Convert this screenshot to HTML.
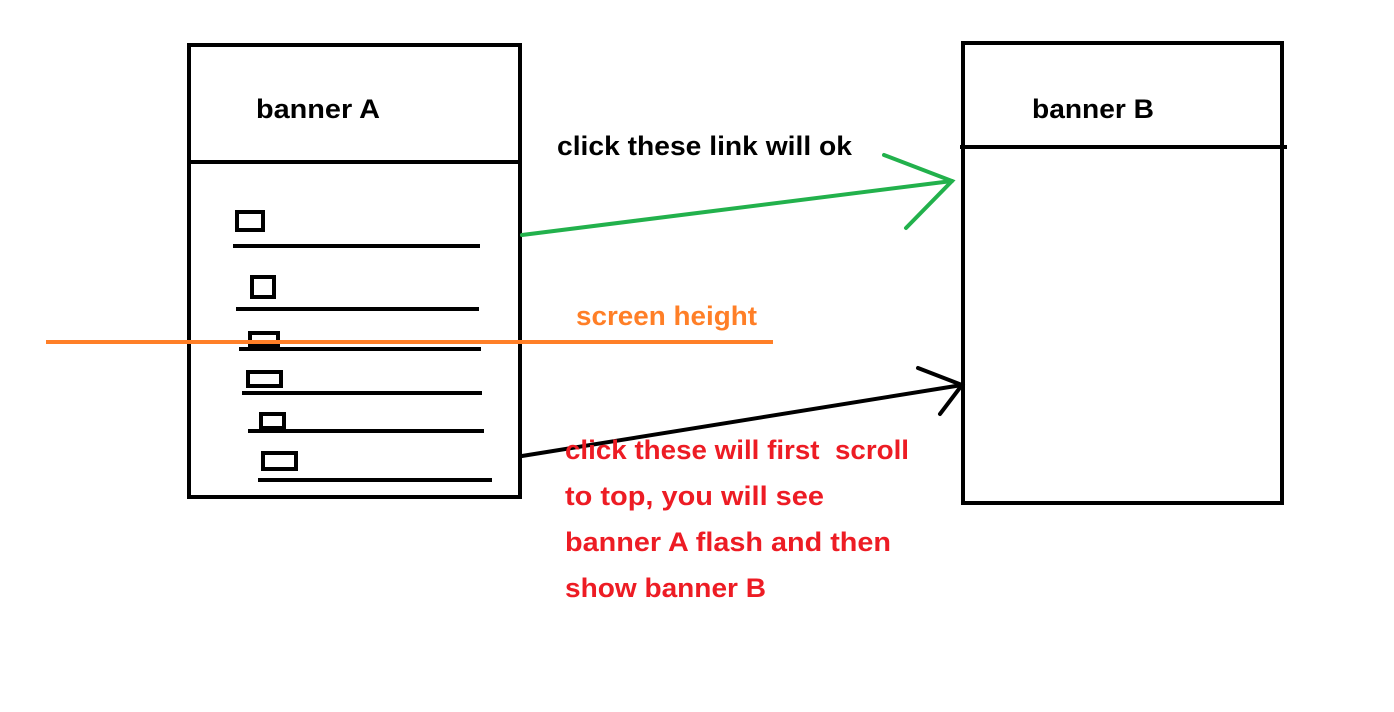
<!DOCTYPE html>
<html><head><meta charset="utf-8"><style>
html,body{margin:0;padding:0;background:#fff;}
svg{display:block;}
text{font-family:"Liberation Sans",sans-serif;font-weight:bold;font-size:27px;}
</style></head><body>
<svg width="1394" height="712" viewBox="0 0 1394 712">
<g fill="none" stroke="#000" stroke-width="4">
<rect x="189" y="45" width="331" height="452"/>
<line x1="189" y1="162" x2="522" y2="162"/>
<rect x="963" y="43" width="319" height="460"/>
<line x1="960" y1="147" x2="1287" y2="147"/>
<g>
<rect x="237" y="212" width="26" height="18"/>
<line x1="233" y1="246" x2="480" y2="246"/>
<rect x="252" y="277" width="22" height="20"/>
<line x1="236" y1="309" x2="479" y2="309"/>
<rect x="250" y="333" width="28" height="13"/>
<line x1="239" y1="349" x2="481" y2="349"/>
<rect x="248" y="372" width="33" height="14"/>
<line x1="242" y1="393" x2="482" y2="393"/>
<rect x="261" y="414" width="23" height="14"/>
<line x1="248" y1="431" x2="484" y2="431"/>
<rect x="263" y="453" width="33" height="16"/>
<line x1="258" y1="480" x2="492" y2="480"/>
</g>
</g>
<text x="256" y="118" fill="#000" textLength="124" lengthAdjust="spacingAndGlyphs">banner A</text>
<text x="1032" y="118" fill="#000" textLength="122" lengthAdjust="spacingAndGlyphs">banner B</text>
<text x="557" y="155" fill="#000" textLength="295" lengthAdjust="spacingAndGlyphs">click these link will ok</text>
<g stroke="#22b14c" stroke-width="4" fill="none" stroke-linecap="round">
<line x1="522" y1="235" x2="952" y2="181"/>
<polyline points="884,155 952,181 906,228"/>
</g>
<line x1="46" y1="342" x2="773" y2="342" stroke="#ff7f27" stroke-width="4"/>
<text x="576" y="325" fill="#ff7f27" textLength="181" lengthAdjust="spacingAndGlyphs">screen height</text>
<g stroke="#000" stroke-width="4" fill="none" stroke-linecap="round">
<line x1="522" y1="456" x2="962" y2="385"/>
<polyline points="918,368 962,385 940,414"/>
</g>
<g fill="#ed1c24">
<text x="565" y="459" textLength="344" lengthAdjust="spacingAndGlyphs" xml:space="preserve">click these will first  scroll</text>
<text x="565" y="505" textLength="259" lengthAdjust="spacingAndGlyphs">to top, you will see</text>
<text x="565" y="551" textLength="326" lengthAdjust="spacingAndGlyphs">banner A flash and then</text>
<text x="565" y="597" textLength="201" lengthAdjust="spacingAndGlyphs">show banner B</text>
</g>
</svg>
</body></html>
